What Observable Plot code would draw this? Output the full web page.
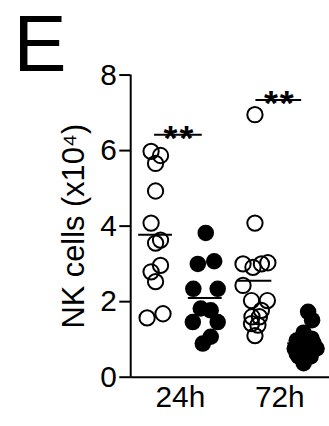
<!DOCTYPE html>
<html><head><meta charset="utf-8">
<script src="https://cdn.jsdelivr.net/npm/d3@7"></script>
<script src="https://cdn.jsdelivr.net/npm/@observablehq/plot@0.6"></script>
<style>
body{margin:0;background:#fff;}
#chart{width:329px;height:426px;overflow:hidden;}
</style>
</head><body><div id="chart"></div>
<script>
// Tick labels / categories
const timeLabels = ["24h", "72h"];
const yTicks = [0, 2, 4, 6, 8];
const yLabel = "NK cells (x10\u2074)";
const panelLetter = "E";

// Values (x10^4 NK cells), with the horizontal scatter offsets of each dot
const open24 =   [5.98, 5.87, 5.66, 4.93, 4.08, 3.63, 3.55, 2.96, 2.79, 2.53, 1.68, 1.57];
const open24Off = [-0.09, 0.10, 0.00, 0.00, -0.09, 0.10, 0.00, 0.10, -0.09, 0.00, 0.15, -0.17];

const filled24 =   [3.82, 3.00, 3.07, 2.34, 2.34, 1.82, 1.77, 1.46, 1.46, 0.89, 1.07];
const filled24Off = [0.01, -0.15, 0.18, -0.24, 0.25, -0.09, 0.11, -0.25, 0.25, -0.05, 0.11];

const open72 =   [6.95, 4.08, 3.00, 2.91, 3.00, 3.03, 2.43, 2.03, 2.03, 1.77, 1.60, 1.60, 1.42, 1.38, 1.10];
const open72Off = [0.00, 0.00, -0.24, -0.04, 0.13, 0.26, -0.24, -0.07, 0.25, 0.13, -0.06, 0.09, -0.07, 0.06, 0.00];

const filled72 =   [1.73, 1.51, 1.18, 0.97, 1.02, 0.76, 0.76, 0.76, 0.55, 0.55, 0.37, 0.90, 0.63];
const filled72Off = [0.07, 0.15, -0.02, -0.16, 0.14, -0.20, 0.00, 0.24, -0.12, 0.12, -0.02, 0.18, -0.16];

// Significance brackets
const sigLabels = ["**", "**"];
const sigX1 = [0.98, 3.02];
const sigX2 = [1.94, 3.94];
const sigY = [6.42, 7.34];

// Build tables
const groupsDef = [
  {g: 1, vals: open24, off: open24Off, filled: false},
  {g: 2, vals: filled24, off: filled24Off, filled: true},
  {g: 3, vals: open72, off: open72Off, filled: false},
  {g: 4, vals: filled72, off: filled72Off, filled: true}
];
const pts = groupsDef.flatMap(G => G.vals.map((v, i) => ({g: G.g, v, o: G.off[i], filled: G.filled})));
const means = groupsDef.map(G => ({g: G.g, m: d3.mean(G.vals)}));
const sig = sigLabels.map((s, i) => ({s, x1: sigX1[i], x2: sigX2[i], y: sigY[i]}));

const font = "Liberation Sans, Arial, Helvetica, sans-serif";

const chart = Plot.plot({
  width: 331,
  height: 426,
  marginLeft: 131,
  marginRight: 0,
  marginTop: 75,
  marginBottom: 47,
  style: {fontFamily: font, background: "#fff", color: "#000", overflow: "visible"},
  x: {domain: [0.5, 4.5]},
  y: {domain: [0, 8]},
  marks: [
    Plot.axisY({ticks: yTicks, tickSize: 11, tickPadding: 3, fontSize: 30, label: null, strokeWidth: 2}),
    Plot.axisX({ticks: timeLabels.map((t, i) => 1.5 + 2 * i), tickFormat: d => timeLabels[Math.round((d - 1.5) / 2)], tickSize: 0, tickPadding: 9, fontSize: 30, label: null}),
    Plot.ruleX([0.5], {y1: 0, y2: 8, strokeWidth: 2}),
    Plot.ruleY([0], {strokeWidth: 2}),
    Plot.dot(pts.filter(d => !d.filled), {x: d => d.g + d.o, y: "v", r: 7.7, stroke: "#000", strokeWidth: 2, fill: "none"}),
    Plot.dot(pts.filter(d => d.filled), {x: d => d.g + d.o, y: "v", r: 8.3, fill: "#000", stroke: "none"}),
    Plot.ruleY(means, {y: "m", x1: d => d.g - 0.34, x2: d => d.g + 0.34, strokeWidth: 2}),
    Plot.ruleY(sig, {y: "y", x1: "x1", x2: "x2", strokeWidth: 2}),
    Plot.text(sig, {x: d => (d.x1 + d.x2) / 2 + 0.02, y: "y", text: "s", fontSize: 36, fontWeight: "bold", lineAnchor: "bottom", dy: 15, fill: "#000"}),
    Plot.text([panelLetter], {frameAnchor: "top-left", text: d => d, fontSize: 80, textAnchor: "start", lineAnchor: "bottom", dx: -118, dy: -4, fill: "#000"}),
    Plot.text([yLabel], {frameAnchor: "left", text: d => d, fontSize: 31, rotate: -90, lineAnchor: "top", textAnchor: "middle", dx: -69, fill: "#000"})
  ]
});
document.getElementById("chart").appendChild(chart);
d3.select(chart).selectAll("text").filter(function(){ return this.textContent === "**"; }).attr("letter-spacing", "2px");
</script>
</body></html>
